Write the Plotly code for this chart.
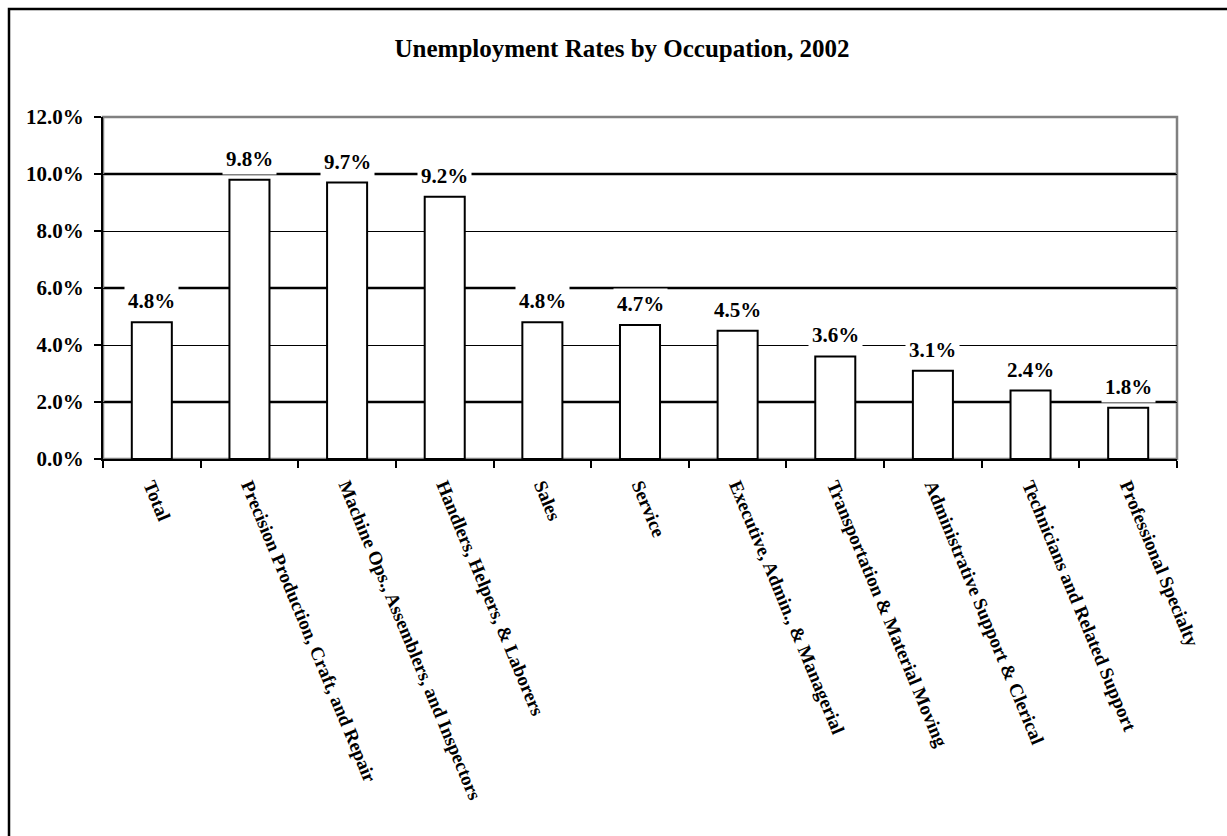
import plotly.graph_objects as go

categories = ["Total", "Precision Production, Craft, and Repair",
              "Machine Ops., Assemblers, and Inspectors", "Handlers, Helpers, & Laborers",
              "Sales", "Service", "Executive, Admin., & Managerial",
              "Transportation & Material Moving", "Administrative Support & Clerical",
              "Technicians and Related Support", "Professional Specialty"]
rates = [4.8, 9.8, 9.7, 9.2, 4.8, 4.7, 4.5, 3.6, 3.1, 2.4, 1.8]
label_texts = ["4.8%", "9.8%", "9.7%", "9.2%", "4.8%", "4.7%", "4.5%", "3.6%", "3.1%", "2.4%", "1.8%"]
y_ticks = [0, 2, 4, 6, 8, 10, 12]
y_tick_labels = ["0.0%", "2.0%", "4.0%", "6.0%", "8.0%", "10.0%", "12.0%"]
thick_grid = [2, 6, 10]

W, H = 1227, 836
L, R, T, B = 103, 50, 117, 377
FAMILY = "Liberation Serif, Times New Roman, serif"
FONT = dict(family=FAMILY, size=21, color="black", weight="bold")
XFONT = dict(family=FAMILY, size=19, color="black", weight="bold")
TITLE_FONT = dict(family=FAMILY, size=25, color="black", weight="bold")

fig = go.Figure()
fig.add_trace(go.Bar(
    x=categories, y=rates,
    marker=dict(color="white", line=dict(color="black", width=2)),
    width=0.41, hoverinfo="skip"))

shapes = []
for v in thick_grid:
    shapes.append(dict(type="line", xref="paper", yref="y", x0=0, x1=1, y0=v, y1=v,
                       line=dict(color="black", width=2.5), layer="below"))
# plot area border (gray)
shapes.append(dict(type="rect", xref="paper", yref="paper", x0=0, x1=1, y0=0, y1=1,
                   line=dict(color="#808080", width=2.5), layer="below"))
# outer chart frame
pw = W - L - R
ph = H - T - B
fx0 = (9 - L) / pw
fy1 = ((H - B) - 9) / ph
shapes.append(dict(type="rect", xref="paper", yref="paper", x0=fx0, x1=1.3, y0=-1.5, y1=fy1,
                   line=dict(color="black", width=2.5), layer="above"))

annotations = []
for c, v, t in zip(categories, rates, label_texts):
    annotations.append(dict(x=c, y=v, xref="x", yref="y", text=t, showarrow=False,
                            yanchor="bottom", yshift=5, bgcolor="white", borderpad=3,
                            font=FONT))

fig.update_layout(
    width=W, height=H,
    margin=dict(l=L, r=R, t=T, b=B, autoexpand=False),
    paper_bgcolor="white", plot_bgcolor="white",
    showlegend=False,
    font=FONT,
    title=dict(text="Unemployment Rates by Occupation, 2002", x=622 / W, xanchor="center",
               y=1 - 48 / H, yanchor="middle", font=TITLE_FONT),
    shapes=shapes, annotations=annotations,
    bargap=0.59,
)
fig.update_xaxes(type="category", showline=True, linecolor="black", linewidth=2,
                 ticks="outside", ticklen=7, tickwidth=2, tickcolor="black",
                 tickson="boundaries", tickangle=67.5, showgrid=False, tickfont=XFONT,
                 ticklabelstandoff=6, automargin=False,
                 range=[-0.5, len(categories) - 0.5])
fig.update_yaxes(range=[0, 12], tickvals=y_ticks, ticktext=y_tick_labels,
                 showline=True, linecolor="black", linewidth=2,
                 ticks="outside", ticklen=7, tickwidth=2, tickcolor="black",
                 showgrid=True, gridcolor="black", gridwidth=1, zeroline=False,
                 tickfont=FONT, ticklabelstandoff=6, automargin=False)

fig.write_html("out.html")
